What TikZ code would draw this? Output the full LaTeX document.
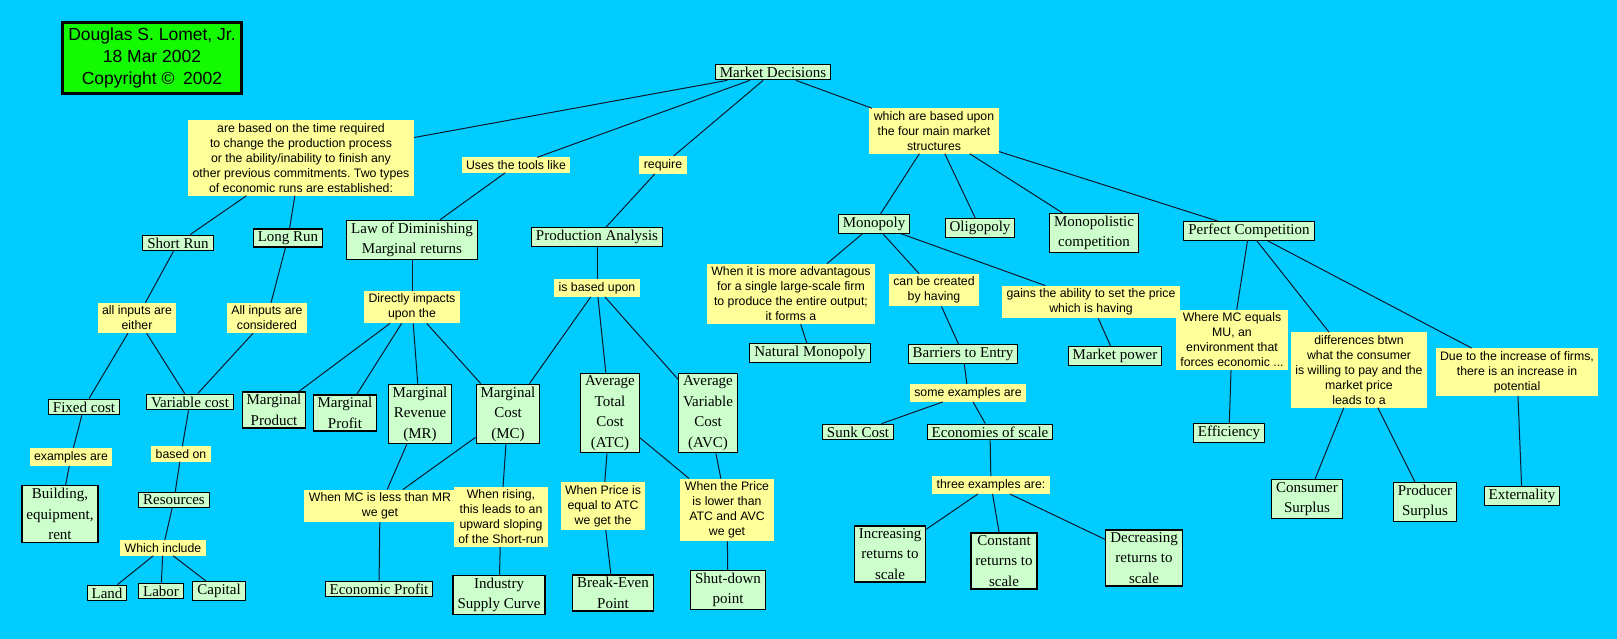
\documentclass[tikz,border=0pt]{standalone}
\usepackage{fontspec}
\setmainfont{Liberation Serif}
\setsansfont{Liberation Sans}
\usepackage{tikz}
\usepackage{xcolor}
\frenchspacing

\definecolor{bgcyan}{RGB}{0,204,255}
\definecolor{conceptgreen}{RGB}{204,255,204}
\definecolor{phraseyellow}{RGB}{255,255,153}
\definecolor{authorgreen}{RGB}{20,250,0}
\definecolor{linkcol}{RGB}{15,25,45}

\newcommand\conceptfont{\rmfamily\fontsize{15}{20.5}\selectfont}
\newcommand\phrasefont{\sffamily\fontsize{12.3}{15}\selectfont}
\newcommand\authorfont{\sffamily\fontsize{17.5}{22}\selectfont}

\begin{document}
\begin{tikzpicture}[x=1pt, y=-1pt,
            concept/.style={draw=black, line width=1.1pt, fill=conceptgreen,
                font=\conceptfont, align=center, inner xsep=4.5pt, inner ysep=2.5pt},
            phrase/.style={fill=phraseyellow, font=\phrasefont, align=center,
                inner xsep=4.5pt, inner ysep=3pt},
            every edge/.style={draw, linkcol, line width=1pt}]

        \path[use as bounding box, fill=bgcyan] (0,0) rectangle (1617,639);

        % --- Author ---
        \node[draw=black, line width=3.2pt, fill=authorgreen, font=\authorfont,
              align=center, inner xsep=6pt, inner ysep=5pt] (AU) at (152,58)
            {Douglas S. Lomet, Jr.\\18 Mar 2002\\Copyright ©\enspace 2002};

        % --- Concepts ---
        \node[concept] (MD)   at (773,72)    {Market Decisions};
        \node[concept] (SR)   at (178,243)   {Short Run};
        \node[concept] (LR)   at (288,238)   {Long Run};
        \node[concept] (LDMR) at (412,240)   {Law of Diminishing\\Marginal returns};
        \node[concept] (PA)   at (597,237)   {Production Analysis};
        \node[concept] (MON)  at (874,224)   {Monopoly};
        \node[concept] (OLI)  at (980,228)   {Oligopoly};
        \node[concept] (MCO)  at (1094,233)  {Monopolistic\\competition};
        \node[concept] (PC)   at (1249,231)  {Perfect Competition};
        \node[concept] (FC)   at (84,407)    {Fixed cost};
        \node[concept] (VC)   at (190,402)   {Variable cost};
        \node[concept] (MPd)  at (274,410)   {Marginal\\Product};
        \node[concept] (MPf)  at (345,413)   {Marginal\\Profit};
        \node[concept] (MR)   at (420,414)   {Marginal\\Revenue\\(MR)};
        \node[concept] (MC)   at (508,414)   {Marginal\\Cost\\(MC)};
        \node[concept] (ATC)  at (610,413)   {Average\\Total\\Cost\\(ATC)};
        \node[concept] (AVC)  at (708,413)   {Average\\Variable\\Cost\\(AVC)};
        \node[concept] (NM)   at (810,353)   {Natural Monopoly};
        \node[concept] (BE)   at (963,354)   {Barriers to Entry};
        \node[concept] (MP)   at (1115,356)  {Market power};
        \node[concept] (SC)   at (858,432)   {Sunk Cost};
        \node[concept] (ES)   at (990,432)   {Economies of scale};
        \node[concept] (EF)   at (1229,433)  {Efficiency};
        \node[concept] (BLD)  at (60,514)    {Building,\\equipment,\\rent};
        \node[concept] (RES)  at (174,500)   {Resources};
        \node[concept] (LAND) at (107,593)   {Land};
        \node[concept] (LAB)  at (161,591)   {Labor};
        \node[concept] (CAP)  at (219,591)   {Capital};
        \node[concept] (EP)   at (379,589)   {Economic Profit};
        \node[concept] (ISC)  at (499,595)   {Industry\\Supply Curve};
        \node[concept] (BEP)  at (613,593)   {Break-Even\\Point};
        \node[concept] (SDP)  at (728,590)   {Shut-down\\point};
        \node[concept] (IRS)  at (890,554)   {Increasing\\returns to\\scale};
        \node[concept] (CRS)  at (1004,561)  {Constant\\returns to\\scale};
        \node[concept] (DRS)  at (1144,558)  {Decreasing\\returns to\\scale};
        \node[concept] (CS)   at (1307,499)  {Consumer\\Surplus};
        \node[concept] (PS)   at (1425,502)  {Producer\\Surplus};
        \node[concept] (EXT)  at (1522,496)  {Externality};

        % --- Linking phrases ---
        \node[phrase] (based) at (301,158) {are based on the time required\\to change the production process\\or the ability/inability to finish any\\other previous commitments. Two types\\of economic runs are established:};
        \node[phrase] (uses)     at (516,165)  {Uses the tools like};
        \node[phrase] (req)      at (663,165)  {require};
        \node[phrase] (which)    at (934,131)  {which are based upon\\the four main market\\structures};
        \node[phrase] (either)   at (137,318)  {all inputs are\\either};
        \node[phrase] (consid)   at (267,318)  {All inputs are\\considered};
        \node[phrase] (direct)   at (412,307)  {Directly impacts\\upon the};
        \node[phrase] (isbased)  at (597,288)  {is based upon};
        \node[phrase] (advant)   at (791,294)  {When it is more advantagous\\for a single large-scale firm\\to produce the entire output;\\it forms a};
        \node[phrase] (created)  at (934,290)  {can be created\\by having};
        \node[phrase] (gains)    at (1091,302) {gains the ability to set the price\\which is having};
        \node[phrase] (someex)   at (968,393)  {some examples are};
        \node[phrase] (wheremc)  at (1232,340) {Where MC equals\\MU, an\\environment that\\forces economic ...};
        \node[phrase] (differ)   at (1359,370) {differences btwn\\what the consumer\\is willing to pay and the\\market price\\leads to a};
        \node[phrase] (dueto)    at (1517,372) {Due to the increase of firms,\\there is an increase in\\potential};
        \node[phrase] (examples) at (71,457)   {examples are};
        \node[phrase] (basedon)  at (181,454)  {based on};
        \node[phrase] (include)  at (163,548)  {Which include};
        \node[phrase] (mcless)   at (380,506)  {When MC is less than MR\\we get};
        \node[phrase] (rising)   at (501,517)  {When rising,\\this leads to an\\upward sloping\\of the Short-run};
        \node[phrase] (priceeq)  at (603,506)  {When Price is\\equal to ATC\\we get the};
        \node[phrase] (pricelow) at (727,510)  {When the Price\\is lower than\\ATC and AVC\\we get};
        \node[phrase] (threeex)  at (991,485)  {three examples are:};

        % --- Links ---
        \path (MD) edge (based) edge (uses) edge (req) edge (which)
              (based) edge (SR) edge (LR)
              (SR) edge (either)
              (either) edge (FC) edge (VC)
              (LR) edge (consid)
              (consid) edge (VC)
              (FC) edge (examples)
              (examples) edge (BLD)
              (VC) edge (basedon)
              (basedon) edge (RES)
              (RES) edge (include)
              (include) edge (LAND) edge (LAB) edge (CAP)
              (uses) edge (LDMR)
              (LDMR) edge (direct)
              (direct) edge (MPd) edge (MPf) edge (MR) edge (MC)
              (MR) edge (mcless)
              (MC) edge (mcless) edge (rising)
              (mcless) edge (EP)
              (rising) edge (ISC)
              (req) edge (PA)
              (PA) edge (isbased)
              (isbased) edge (MC) edge (ATC) edge (AVC)
              (ATC) edge (priceeq) edge (pricelow)
              (AVC) edge (pricelow)
              (priceeq) edge (BEP)
              (pricelow) edge (SDP);

        \path (which) edge (MON) edge (OLI) edge (MCO) edge (PC)
              (MON) edge (advant) edge (created) edge (gains)
              (advant) edge (NM)
              (created) edge (BE)
              (BE) edge (someex)
              (someex) edge (SC) edge (ES)
              (gains) edge (MP)
              (ES) edge (threeex)
              (threeex) edge (IRS) edge (CRS) edge (DRS)
              (PC) edge (wheremc) edge (differ) edge (dueto)
              (wheremc) edge (EF)
              (differ) edge (CS) edge (PS)
              (dueto) edge (EXT);

    \end{tikzpicture}
\end{document}
